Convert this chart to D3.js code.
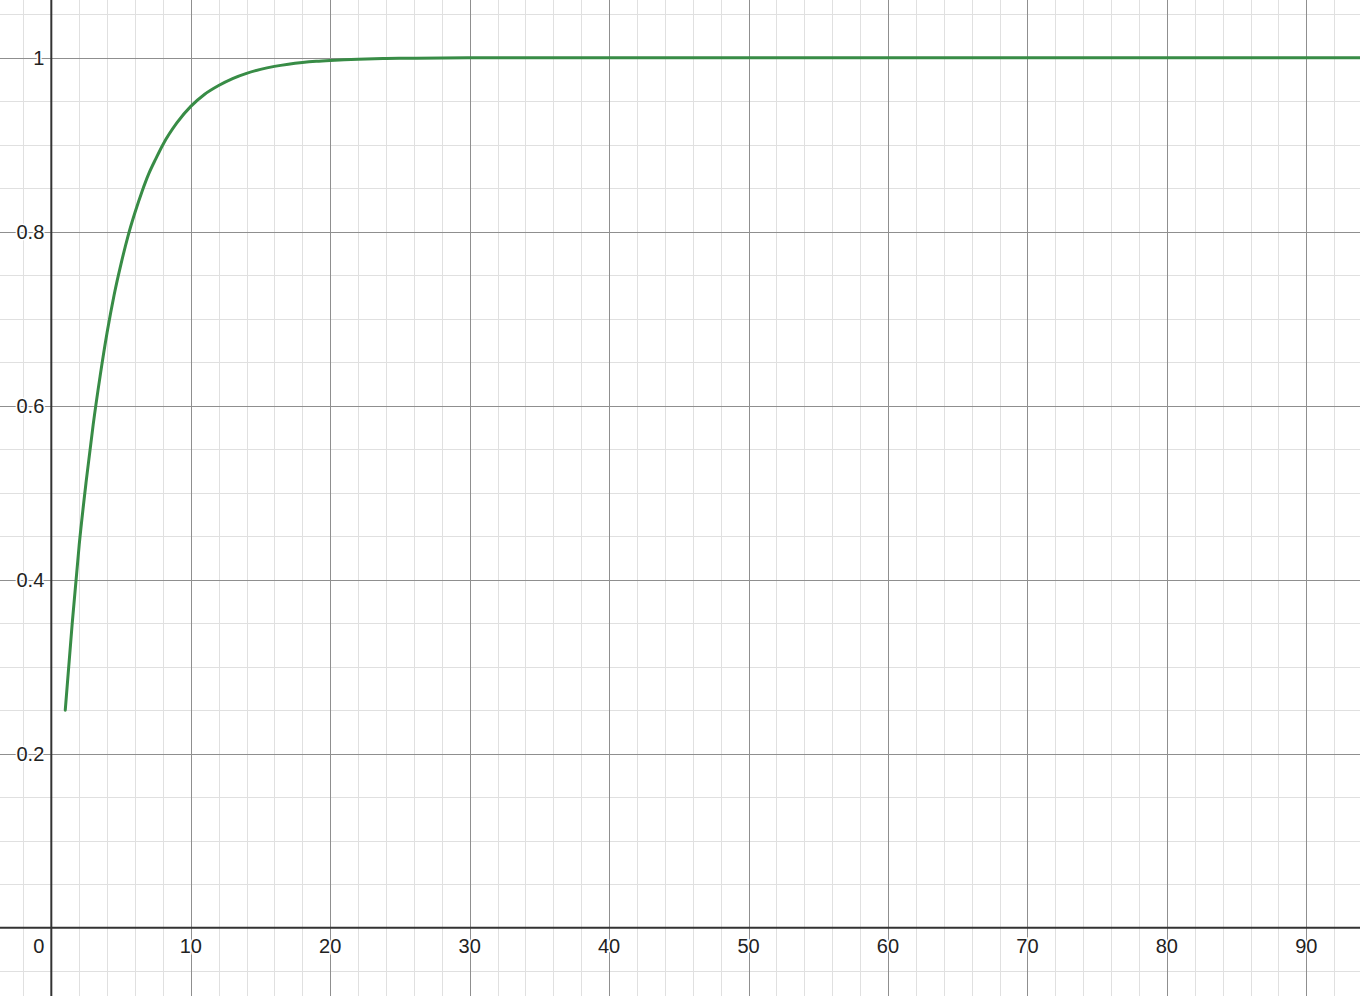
<!DOCTYPE html>
<html>
<head>
<meta charset="utf-8">
<script src="https://cdn.jsdelivr.net/npm/d3@7"></script>
<style>
  body { margin: 0; background: #fff; }
  svg { display: block; }
  text { font-family: "Liberation Sans", Arial, sans-serif; font-size: 20px; fill: #222; }
</style>
</head>
<body>
<div id="main"></div>
<script>
// values
var xs = [1, 1.5, 2, 2.5, 3, 3.5, 4, 4.5, 5, 5.5, 6, 6.5, 7, 7.5, 8, 9, 10, 11, 12, 13, 14, 15, 16, 17, 18, 19, 20, 21, 22, 24, 26, 28, 30, 40, 60, 94];
var ys = [0.25, 0.35, 0.44, 0.513, 0.578, 0.634, 0.684, 0.727, 0.763, 0.795, 0.822, 0.846, 0.867, 0.884, 0.9, 0.925, 0.944, 0.958, 0.968, 0.976, 0.982, 0.9866, 0.99, 0.9925, 0.9944, 0.9958, 0.9968, 0.9976, 0.9982, 0.999, 0.9994, 0.9997, 0.9998, 1, 1, 1];
var xTickLabels = [10, 20, 30, 40, 50, 60, 70, 80, 90];
var yTickLabels = [0.2, 0.4, 0.6, 0.8, 1];

var width = 1360, height = 996;

var x = d3.scaleLinear().domain([-3.68, 93.85]).range([0, width]);
var y = d3.scaleLinear().domain([-0.0785, 1.0663]).range([height, 0]);

var svg = d3.select("#main")
        .append("svg")
        .attr("width", width)
        .attr("height", height);

// minor grid
var minorX = d3.range(-2, 94, 2).filter(function(v) { return v % 10 !== 0; });
var minorY = d3.range(-1, 22).map(function(i) { return i * 0.05; })
        .filter(function(v) { return Math.abs(v / 0.2 - Math.round(v / 0.2)) > 1e-6; });

var grid = svg.append("g").attr("shape-rendering", "crispEdges");

grid.selectAll("line.mx")
    .data(minorX)
    .enter().append("line")
    .attr("x1", function(d) { return Math.round(x(d)) + 0.5; })
    .attr("x2", function(d) { return Math.round(x(d)) + 0.5; })
    .attr("y1", 0).attr("y2", height)
    .attr("stroke", "#e0e0e0");

grid.selectAll("line.my")
    .data(minorY)
    .enter().append("line")
    .attr("y1", function(d) { return Math.round(y(d)) + 0.5; })
    .attr("y2", function(d) { return Math.round(y(d)) + 0.5; })
    .attr("x1", 0).attr("x2", width)
    .attr("stroke", "#e0e0e0");

// major grid
grid.selectAll("line.Mx")
    .data(xTickLabels)
    .enter().append("line")
    .attr("x1", function(d) { return Math.round(x(d)) + 0.5; })
    .attr("x2", function(d) { return Math.round(x(d)) + 0.5; })
    .attr("y1", 0).attr("y2", height)
    .attr("stroke", "#8f8f8f");

grid.selectAll("line.My")
    .data(yTickLabels)
    .enter().append("line")
    .attr("y1", function(d) { return Math.round(y(d)) + 0.5; })
    .attr("y2", function(d) { return Math.round(y(d)) + 0.5; })
    .attr("x1", 0).attr("x2", width)
    .attr("stroke", "#8f8f8f");

// axes
svg.append("line")
    .attr("x1", 0).attr("x2", width)
    .attr("y1", y(0)).attr("y2", y(0))
    .attr("stroke", "#333").attr("stroke-width", 2);
svg.append("line")
    .attr("x1", x(0)).attr("x2", x(0))
    .attr("y1", 0).attr("y2", height)
    .attr("stroke", "#333").attr("stroke-width", 2);

// labels
var labels = svg.append("g")
        .attr("stroke", "#fff")
        .attr("stroke-width", 3)
        .attr("paint-order", "stroke");

labels.selectAll("text.xl")
    .data(xTickLabels)
    .enter().append("text")
    .attr("x", function(d) { return x(d); })
    .attr("y", y(0) + 25)
    .attr("text-anchor", "middle")
    .text(function(d) { return d; });

labels.selectAll("text.yl")
    .data(yTickLabels)
    .enter().append("text")
    .attr("x", x(0) - 7)
    .attr("y", function(d) { return y(d) + 7; })
    .attr("text-anchor", "end")
    .text(function(d) { return d3.format("")(d); });

labels.append("text")
    .attr("x", x(0) - 7)
    .attr("y", y(0) + 25)
    .attr("text-anchor", "end")
    .text("0");

// curve
var line = d3.line()
        .x(function(d, i) { return x(xs[i]); })
        .y(function(d) { return y(d); })
        .curve(d3.curveMonotoneX);

svg.append("path")
    .attr("d", line(ys))
    .attr("fill", "none")
    .attr("stroke", "#388c46")
    .attr("stroke-width", 3)
    .attr("stroke-linecap", "round");
</script>
</body>
</html>
